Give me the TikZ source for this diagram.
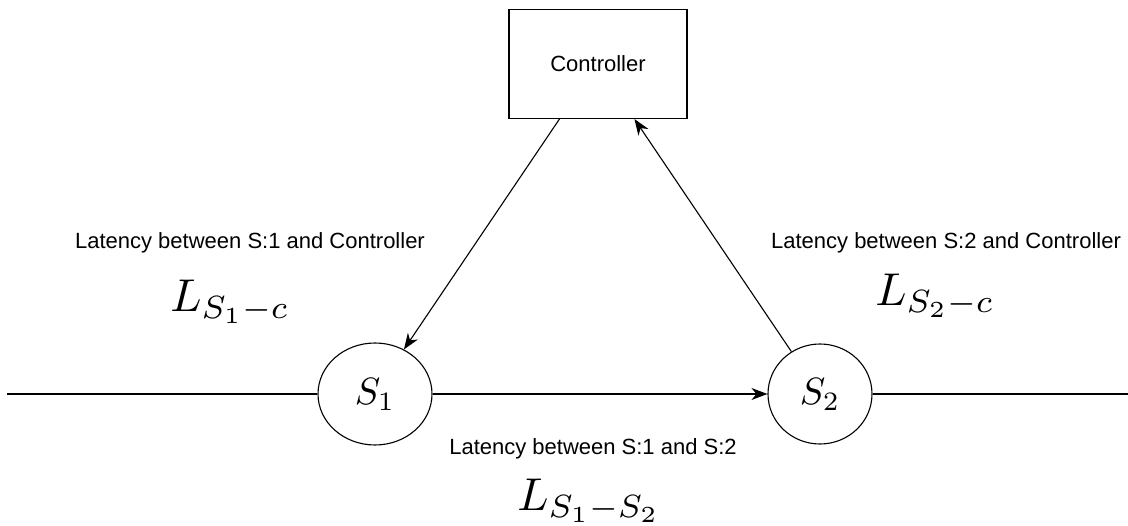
\documentclass[tikz,border=0pt]{standalone}
\usepackage{fontspec}
\setsansfont{Liberation Sans}
\usetikzlibrary{shapes.geometric,arrows.meta,calc}

\tikzset{
  wire/.style={line width=1.1pt, draw=black},
  tip/.style={-{Stealth[length=16pt,width=12pt,inset=5pt]}},
  switch/.style={ellipse, draw=black, line width=1.1pt, inner sep=0pt},
  ctrlbox/.style={rectangle, draw=black, line width=1.1pt, minimum width=178pt, minimum height=109pt,
    font=\sffamily\fontsize{22}{26}\selectfont},
  caption/.style={font=\sffamily\fontsize{22}{26}\selectfont, inner sep=0pt},
  mathlbl/.style={inner sep=0pt},
  swlbl/.style={inner sep=0pt}
}
\newcommand{\bigmath}[1]{\scalebox{4.6}{$#1$}}
\newcommand{\swmath}[1]{\scalebox{3.8}{$#1$}}

\begin{document}
\begin{tikzpicture}[x=1pt,y=-1pt]
  \useasboundingbox (0,0) rectangle (1128,526);

  % controller and the two switches
  \node[ctrlbox] (ctrl) at (598,64) {Controller};
  \node[switch, minimum width=114pt, minimum height=102pt] (s1) at (375,394) {};
  \node[switch, minimum width=104pt, minimum height=100pt] (s2) at (820,394) {};
  \node[swlbl, anchor=base] (s1t) at ($(s1.center)+(0,11)$) {\swmath{S_1}};
  \node[swlbl, anchor=base] (s2t) at ($(s2.center)+(0,11)$) {\swmath{S_2}};

  % free ends of the outer links
  \coordinate (west) at (7,394);
  \coordinate (east) at (1128,394);
  \coordinate (cdown) at ($(ctrl.south west)+(51,0)$);
  \coordinate (cup) at ($(ctrl.south west)+(126,0)$);

  % links
  \draw[wire] (west) -- (s1.west);
  \draw[wire, tip] (s1.east) -- (s2.west);
  \draw[wire] (s2.east) -- (east);
  \draw[wire, tip] (cdown) -- (s1.57);
  \draw[wire, tip] (s2.124) -- (cup);

  % latency captions
  \node[caption, anchor=base] (lat1) at (250,249) {Latency between S:1 and Controller};
  \node[mathlbl, anchor=base] (m1) at (230,312) {\bigmath{L_{S_1-c}}};
  \node[caption, anchor=base] (lat2) at (946,249) {Latency between S:2 and Controller};
  \node[mathlbl, anchor=base] (m2) at (935,306) {\bigmath{L_{S_2-c}}};
  \node[caption, anchor=base] (lat3) at (593,455) {Latency between S:1 and S:2};
  \node[mathlbl, anchor=base] (m3) at (589,511) {\bigmath{L_{S_1-S_2}}};
\end{tikzpicture}
\end{document}
